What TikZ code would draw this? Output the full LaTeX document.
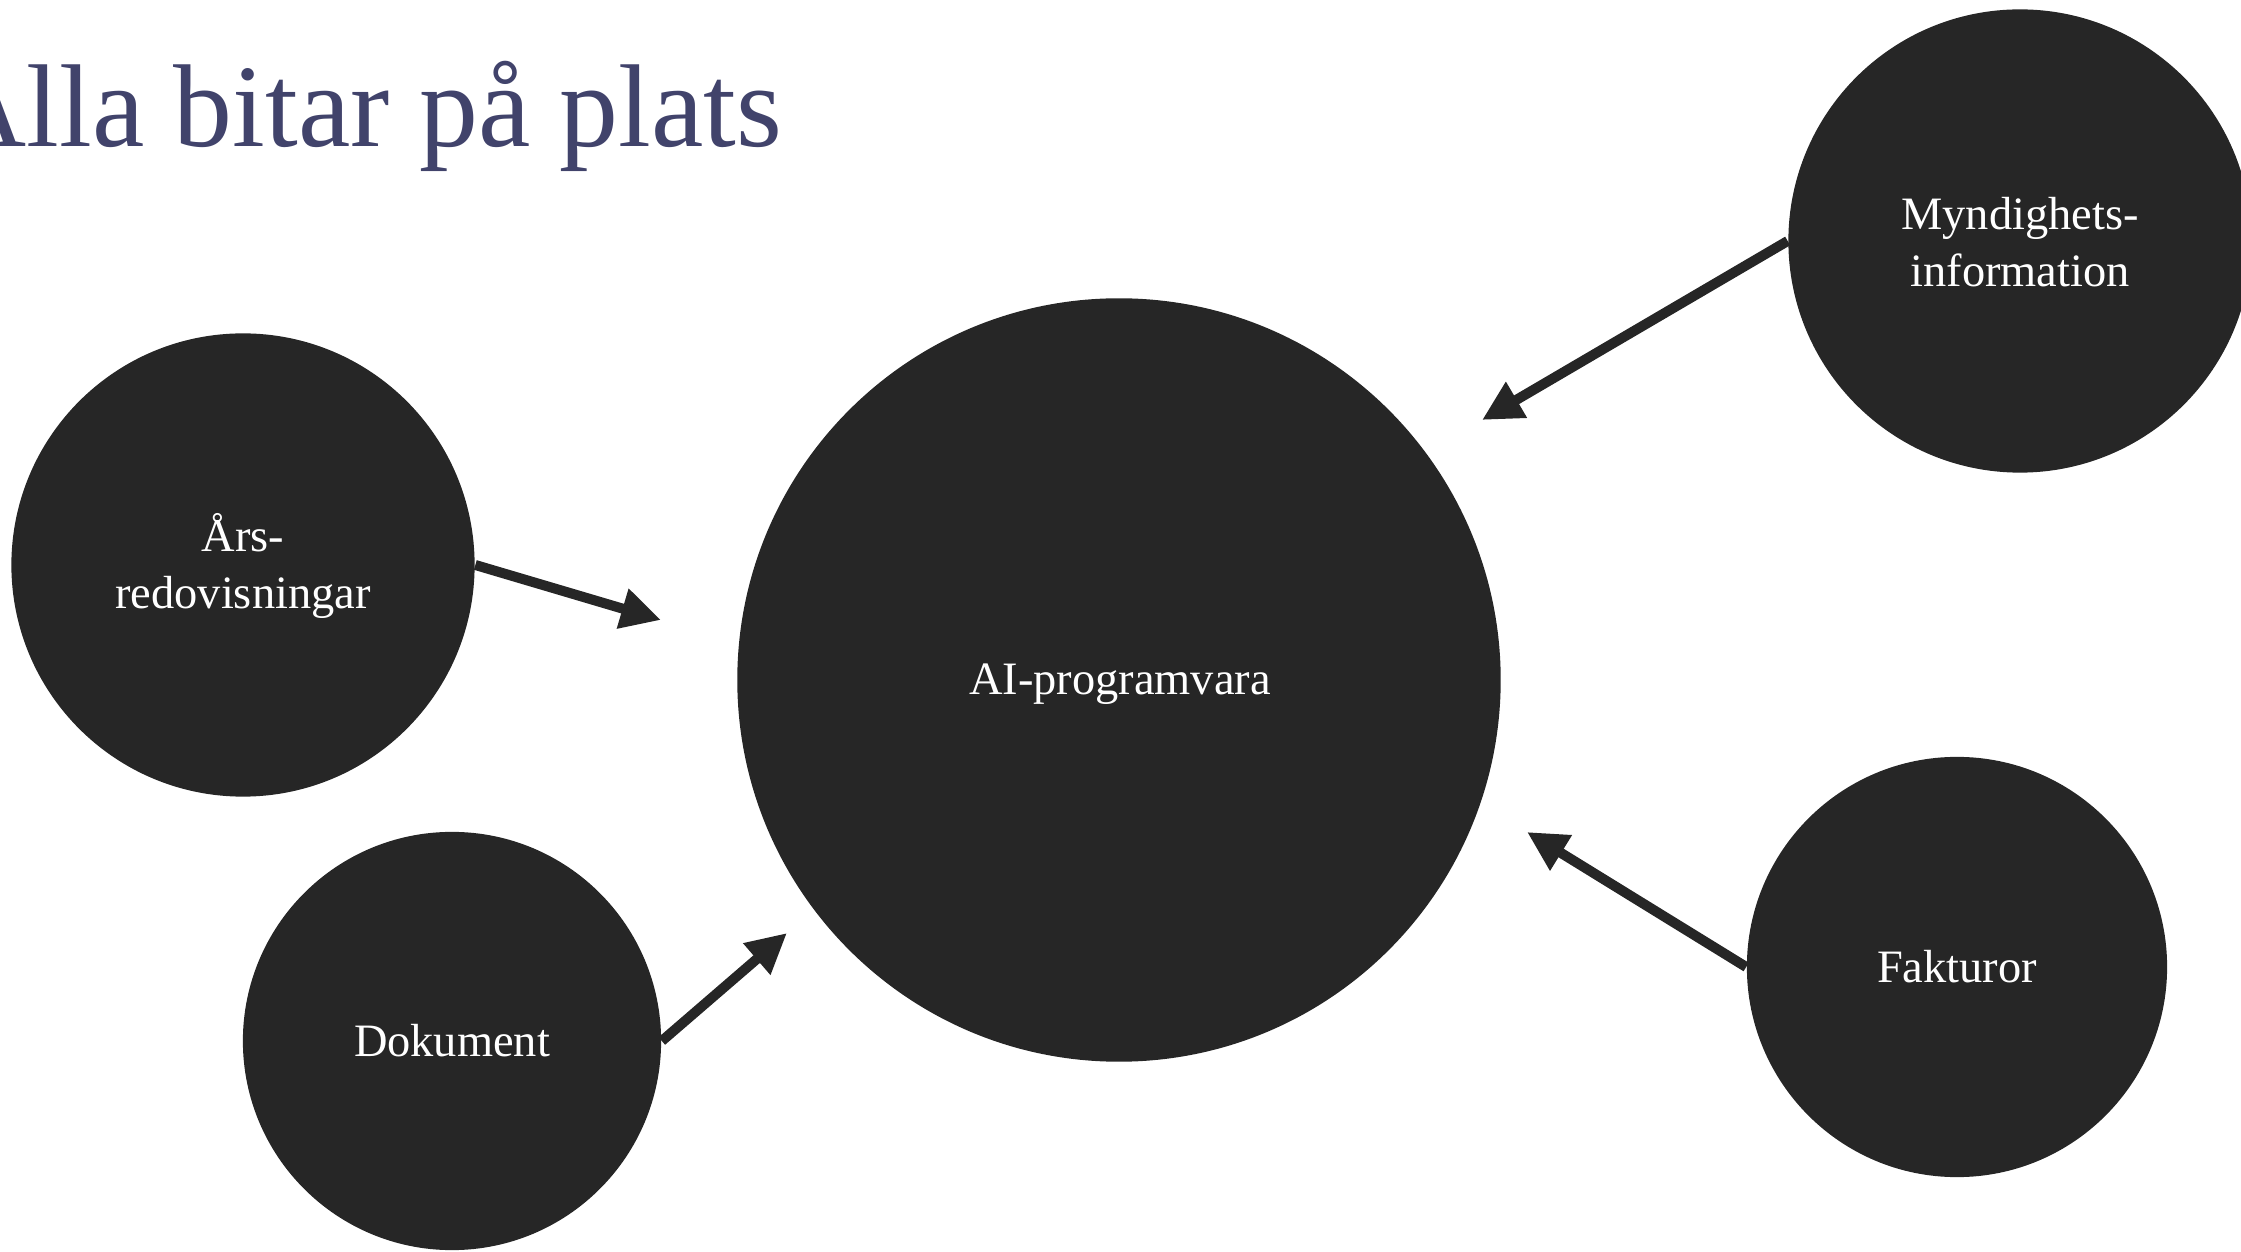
\documentclass[tikz,border=0pt]{standalone}
\usepackage{fontspec}
\setmainfont{Liberation Serif}
\usetikzlibrary{arrows.meta,calc}
\definecolor{bub}{HTML}{262626}
\definecolor{ttl}{RGB}{65,67,107}
\begin{document}
\begin{tikzpicture}[x=0.01cm,y=-0.01cm,
  bubble/.style={circle,fill=bub,draw=none,inner sep=0pt},
  lbl/.style={text=white,font=\fontsize{13.2pt}{16.2pt}\selectfont,inner sep=0pt,anchor=base},
  flow/.style={draw=bub,line width=0.1cm,-{Triangle[length=0.4cm,width=0.39cm]}}]
\useasboundingbox (0,0) rectangle (2241,1252);
% title
\node[anchor=base east,text=ttl,font=\fontsize{33.5pt}{40pt}\selectfont,inner sep=0pt] (title) at (783,147) {Alla bitar på plats};
% bubbles
\node[bubble,minimum size=4.63cm] (ars) at (243,565) {};
\node[bubble,minimum size=4.18cm] (dok) at (452,1041) {};
\node[bubble,minimum size=7.63cm] (ai) at (1119,680) {};
\node[bubble,minimum size=4.63cm] (myn) at (2020,241) {};
\node[bubble,minimum size=4.20cm] (fak) at (1957,967) {};
% labels
\node[lbl] (arsT) at ($(ars.center)+(0,-13)$) {\begin{tabular}[t]{@{}c@{}}Års-\\redovisningar\end{tabular}};
\node[lbl] (dokT) at ($(dok.center)+(0,16)$) {Dokument};
\node[lbl] (aiT) at ($(ai.center)+(1,15)$) {AI-programvara};
\node[lbl] (mynT) at ($(myn.center)+(0,-11)$) {\begin{tabular}[t]{@{}c@{}}Myndighets-\\information\end{tabular}};
\node[lbl] (fakT) at ($(fak.center)+(0,15)$) {Fakturor};
% arrow tips
\coordinate (tA) at (661,620);
\coordinate (tD) at (787,933);
\coordinate (tM) at (1482,420);
\coordinate (tF) at (1527,832);
\draw[flow] (ars.east) -- (tA);
\draw[flow] (dok.east) -- (tD);
\draw[flow] (myn.west) -- (tM);
\draw[flow] (fak.west) -- (tF);
\end{tikzpicture}
\end{document}
